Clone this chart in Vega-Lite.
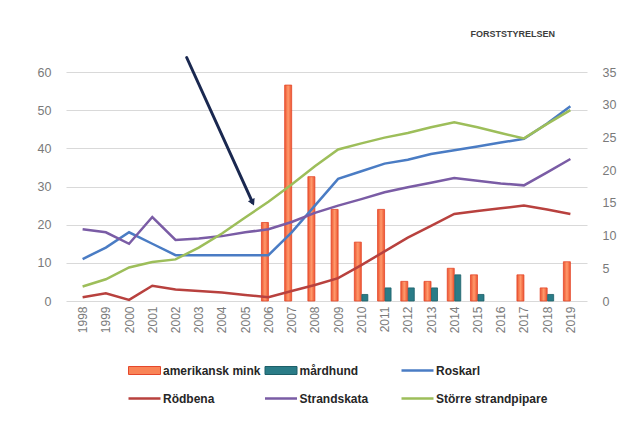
{
  "$schema": "https://vega.github.io/schema/vega-lite/v6.json",
  "width": 521,
  "height": 229,
  "autosize": {"type": "none"},
  "padding": {"left": 66, "top": 72, "right": 46, "bottom": 120},
  "background": "white",
  "title": {
    "text": "FORSTSTYRELSEN",
    "anchor": "end",
    "frame": "group",
    "offset": 17,
    "dx": -32,
    "fontSize": 9,
    "fontWeight": "bold",
    "color": "#3d3d3d"
  },
  "datasets": {
    "predators": [
      {"year": 2006, "serie": "amerikansk mink", "value": 12},
      {"year": 2007, "serie": "amerikansk mink", "value": 33},
      {"year": 2008, "serie": "amerikansk mink", "value": 19},
      {"year": 2009, "serie": "amerikansk mink", "value": 14},
      {"year": 2010, "serie": "amerikansk mink", "value": 9},
      {"year": 2011, "serie": "amerikansk mink", "value": 14},
      {"year": 2012, "serie": "amerikansk mink", "value": 3},
      {"year": 2013, "serie": "amerikansk mink", "value": 3},
      {"year": 2014, "serie": "amerikansk mink", "value": 5},
      {"year": 2015, "serie": "amerikansk mink", "value": 4},
      {"year": 2017, "serie": "amerikansk mink", "value": 4},
      {"year": 2018, "serie": "amerikansk mink", "value": 2},
      {"year": 2019, "serie": "amerikansk mink", "value": 6},
      {"year": 2010, "serie": "mårdhund", "value": 1},
      {"year": 2011, "serie": "mårdhund", "value": 2},
      {"year": 2012, "serie": "mårdhund", "value": 2},
      {"year": 2013, "serie": "mårdhund", "value": 2},
      {"year": 2014, "serie": "mårdhund", "value": 4},
      {"year": 2015, "serie": "mårdhund", "value": 1},
      {"year": 2018, "serie": "mårdhund", "value": 1}
    ],
    "birds": [
      {"year": 1998, "serie": "Roskarl", "value": 11},
      {"year": 1999, "serie": "Roskarl", "value": 14},
      {"year": 2000, "serie": "Roskarl", "value": 18},
      {"year": 2001, "serie": "Roskarl", "value": 15},
      {"year": 2002, "serie": "Roskarl", "value": 12},
      {"year": 2003, "serie": "Roskarl", "value": 12},
      {"year": 2004, "serie": "Roskarl", "value": 12},
      {"year": 2005, "serie": "Roskarl", "value": 12},
      {"year": 2006, "serie": "Roskarl", "value": 12},
      {"year": 2007, "serie": "Roskarl", "value": 18},
      {"year": 2008, "serie": "Roskarl", "value": 25},
      {"year": 2009, "serie": "Roskarl", "value": 32},
      {"year": 2010, "serie": "Roskarl", "value": 34},
      {"year": 2011, "serie": "Roskarl", "value": 36},
      {"year": 2012, "serie": "Roskarl", "value": 37},
      {"year": 2013, "serie": "Roskarl", "value": 38.5},
      {"year": 2014, "serie": "Roskarl", "value": 39.5},
      {"year": 2015, "serie": "Roskarl", "value": 40.5},
      {"year": 2016, "serie": "Roskarl", "value": 41.5},
      {"year": 2017, "serie": "Roskarl", "value": 42.5},
      {"year": 2018, "serie": "Roskarl", "value": 46.5},
      {"year": 2019, "serie": "Roskarl", "value": 51},
      {"year": 1998, "serie": "Rödbena", "value": 1},
      {"year": 1999, "serie": "Rödbena", "value": 2},
      {"year": 2000, "serie": "Rödbena", "value": 0.3},
      {"year": 2001, "serie": "Rödbena", "value": 4},
      {"year": 2002, "serie": "Rödbena", "value": 3},
      {"year": 2003, "serie": "Rödbena", "value": 2.6},
      {"year": 2004, "serie": "Rödbena", "value": 2.2},
      {"year": 2005, "serie": "Rödbena", "value": 1.6},
      {"year": 2006, "serie": "Rödbena", "value": 1},
      {"year": 2007, "serie": "Rödbena", "value": 2.6},
      {"year": 2008, "serie": "Rödbena", "value": 4.2},
      {"year": 2009, "serie": "Rödbena", "value": 6},
      {"year": 2010, "serie": "Rödbena", "value": 9.4},
      {"year": 2011, "serie": "Rödbena", "value": 13},
      {"year": 2012, "serie": "Rödbena", "value": 16.6},
      {"year": 2013, "serie": "Rödbena", "value": 19.7},
      {"year": 2014, "serie": "Rödbena", "value": 22.8},
      {"year": 2015, "serie": "Rödbena", "value": 23.6},
      {"year": 2016, "serie": "Rödbena", "value": 24.3},
      {"year": 2017, "serie": "Rödbena", "value": 25},
      {"year": 2018, "serie": "Rödbena", "value": 24},
      {"year": 2019, "serie": "Rödbena", "value": 22.8},
      {"year": 1998, "serie": "Strandskata", "value": 18.8},
      {"year": 1999, "serie": "Strandskata", "value": 18},
      {"year": 2000, "serie": "Strandskata", "value": 15},
      {"year": 2001, "serie": "Strandskata", "value": 22},
      {"year": 2002, "serie": "Strandskata", "value": 16},
      {"year": 2003, "serie": "Strandskata", "value": 16.4},
      {"year": 2004, "serie": "Strandskata", "value": 17},
      {"year": 2005, "serie": "Strandskata", "value": 18},
      {"year": 2006, "serie": "Strandskata", "value": 18.8},
      {"year": 2007, "serie": "Strandskata", "value": 20.7},
      {"year": 2008, "serie": "Strandskata", "value": 23.1},
      {"year": 2009, "serie": "Strandskata", "value": 25},
      {"year": 2010, "serie": "Strandskata", "value": 26.7},
      {"year": 2011, "serie": "Strandskata", "value": 28.5},
      {"year": 2012, "serie": "Strandskata", "value": 29.8},
      {"year": 2013, "serie": "Strandskata", "value": 31},
      {"year": 2014, "serie": "Strandskata", "value": 32.2},
      {"year": 2015, "serie": "Strandskata", "value": 31.5},
      {"year": 2016, "serie": "Strandskata", "value": 30.8},
      {"year": 2017, "serie": "Strandskata", "value": 30.3},
      {"year": 2018, "serie": "Strandskata", "value": 33.7},
      {"year": 2019, "serie": "Strandskata", "value": 37.2},
      {"year": 1998, "serie": "Större strandpipare", "value": 3.8},
      {"year": 1999, "serie": "Större strandpipare", "value": 5.7},
      {"year": 2000, "serie": "Större strandpipare", "value": 8.8},
      {"year": 2001, "serie": "Större strandpipare", "value": 10.2},
      {"year": 2002, "serie": "Större strandpipare", "value": 10.9},
      {"year": 2003, "serie": "Större strandpipare", "value": 14},
      {"year": 2004, "serie": "Större strandpipare", "value": 17.7},
      {"year": 2005, "serie": "Större strandpipare", "value": 21.9},
      {"year": 2006, "serie": "Större strandpipare", "value": 26},
      {"year": 2007, "serie": "Större strandpipare", "value": 30.5},
      {"year": 2008, "serie": "Större strandpipare", "value": 35.3},
      {"year": 2009, "serie": "Större strandpipare", "value": 39.7},
      {"year": 2010, "serie": "Större strandpipare", "value": 41.3},
      {"year": 2011, "serie": "Större strandpipare", "value": 42.8},
      {"year": 2012, "serie": "Större strandpipare", "value": 44},
      {"year": 2013, "serie": "Större strandpipare", "value": 45.5},
      {"year": 2014, "serie": "Större strandpipare", "value": 46.8},
      {"year": 2015, "serie": "Större strandpipare", "value": 45.5},
      {"year": 2016, "serie": "Större strandpipare", "value": 44},
      {"year": 2017, "serie": "Större strandpipare", "value": 42.6},
      {"year": 2018, "serie": "Större strandpipare", "value": 46.4},
      {"year": 2019, "serie": "Större strandpipare", "value": 50}
    ],
    "arrow": [
      {"x_start": 2002.48, "y_start": 63.8, "x_end": 2005.32, "y_end": 25.8}
    ]
  },
  "layer": [
    {
      "data": {"name": "predators"},
      "layer": [
        {
          "transform": [{"filter": "datum.serie === 'amerikansk mink'"}],
          "mark": {
            "type": "bar",
            "orient": "vertical",
            "size": 7,
            "xOffset": -3.5,
            "strokeWidth": 0.8,
            "fill": {
              "gradient": "linear", "x1": 0, "x2": 1, "y1": 0, "y2": 0,
              "stops": [
                {"offset": 0, "color": "#EC5430"},
                {"offset": 0.5, "color": "#FF9A6C"},
                {"offset": 1, "color": "#EC5430"}
              ]
            }
          },
          "encoding": {
            "x": {
              "field": "year", "type": "quantitative",
              "scale": {"domain": [1997.5, 2019.5], "nice": false, "zero": false},
              "axis": {"values": [1998, 1999, 2000, 2001, 2002, 2003, 2004, 2005, 2006, 2007, 2008, 2009, 2010, 2011, 2012, 2013, 2014, 2015, 2016, 2017, 2018, 2019], "format": "d", "title": null, "labelOverlap": false}
            },
            "y": {
              "field": "value", "type": "quantitative",
              "scale": {"domain": [0, 35], "nice": false},
              "axis": {"orient": "right", "values": [0, 5, 10, 15, 20, 25, 30, 35], "grid": false, "title": null, "labelOverlap": false}
            },
            "stroke": {
              "field": "serie", "type": "nominal",
              "scale": {
                "domain": ["amerikansk mink", "mårdhund", "Roskarl", "Rödbena", "Strandskata", "Större strandpipare"],
                "range": ["#E5472B", "#1D5F68", "#4A7CC4", "#B8413E", "#7A5CA5", "#9DBE5A"]
              },
              "legend": {
                "title": null,
                "orient": "none",
                "direction": "horizontal",
                "legendX": 72.5,
                "legendY": 292.5,
                "columns": 3,
                "gridAlign": "all",
                "columnPadding": -14.5,
                "rowPadding": 16,
                "padding": 0,
                "symbolSize": 400,
                "symbolStrokeWidth": 2.5,
                "labelOffset": 12.5,
                "labelFontSize": 12,
                "labelFontWeight": "bold",
                "labelColor": "#262626",
                "encode": {
                  "symbols": {
                    "update": {
                      "shape": {"signal": "datum.value === 'amerikansk mink' || datum.value === 'mårdhund' ? 'M-1.6,-0.4H1.6V0.4H-1.6Z' : 'M-1.6,0H1.6'"},
                      "fill": {"signal": "datum.value === 'amerikansk mink' ? '#F98457' : datum.value === 'mårdhund' ? '#2A7C87' : 'transparent'"},
                      "strokeWidth": {"signal": "datum.value === 'amerikansk mink' || datum.value === 'mårdhund' ? 1 : 2.5"}
                    }
                  }
                }
              }
            }
          }
        },
        {
          "transform": [{"filter": "datum.serie === 'mårdhund'"}],
          "mark": {
            "type": "bar",
            "orient": "vertical",
            "size": 6,
            "xOffset": 3.5,
            "strokeWidth": 0.8,
            "fill": "#2A7C87"
          },
          "encoding": {
            "x": {
              "field": "year", "type": "quantitative",
              "scale": {"domain": [1997.5, 2019.5], "nice": false, "zero": false},
              "axis": {"values": [1998, 1999, 2000, 2001, 2002, 2003, 2004, 2005, 2006, 2007, 2008, 2009, 2010, 2011, 2012, 2013, 2014, 2015, 2016, 2017, 2018, 2019], "format": "d", "title": null, "labelOverlap": false}
            },
            "y": {
              "field": "value", "type": "quantitative",
              "scale": {"domain": [0, 35], "nice": false},
              "axis": {"orient": "right", "values": [0, 5, 10, 15, 20, 25, 30, 35], "grid": false, "title": null, "labelOverlap": false}
            },
            "stroke": {
              "field": "serie", "type": "nominal",
              "legend": {
                "title": null,
                "orient": "none",
                "direction": "horizontal",
                "legendX": 72.5,
                "legendY": 292.5,
                "columns": 3,
                "gridAlign": "all",
                "columnPadding": -14.5,
                "rowPadding": 16,
                "padding": 0,
                "symbolSize": 400,
                "symbolStrokeWidth": 2.5,
                "labelOffset": 12.5,
                "labelFontSize": 12,
                "labelFontWeight": "bold",
                "labelColor": "#262626",
                "encode": {
                  "symbols": {
                    "update": {
                      "shape": {"signal": "datum.value === 'amerikansk mink' || datum.value === 'mårdhund' ? 'M-1.6,-0.4H1.6V0.4H-1.6Z' : 'M-1.6,0H1.6'"},
                      "fill": {"signal": "datum.value === 'amerikansk mink' ? '#F98457' : datum.value === 'mårdhund' ? '#2A7C87' : 'transparent'"},
                      "strokeWidth": {"signal": "datum.value === 'amerikansk mink' || datum.value === 'mårdhund' ? 1 : 2.5"}
                    }
                  }
                }
              }
            }
          }
        }
      ]
    },
    {
      "layer": [
        {
          "data": {"name": "birds"},
          "mark": {"type": "line", "strokeWidth": 2.5},
          "encoding": {
            "x": {
              "field": "year", "type": "quantitative",
              "scale": {"domain": [1997.5, 2019.5], "nice": false, "zero": false},
              "axis": {"values": [1998, 1999, 2000, 2001, 2002, 2003, 2004, 2005, 2006, 2007, 2008, 2009, 2010, 2011, 2012, 2013, 2014, 2015, 2016, 2017, 2018, 2019], "format": "d", "title": null, "labelOverlap": false}
            },
            "y": {
              "field": "value", "type": "quantitative",
              "scale": {"domain": [0, 60], "nice": false},
              "axis": {"orient": "left", "values": [0, 10, 20, 30, 40, 50, 60], "grid": true, "title": null, "labelOverlap": false}
            },
            "stroke": {
              "field": "serie", "type": "nominal",
              "legend": {
                "title": null,
                "orient": "none",
                "direction": "horizontal",
                "legendX": 72.5,
                "legendY": 292.5,
                "columns": 3,
                "gridAlign": "all",
                "columnPadding": -14.5,
                "rowPadding": 16,
                "padding": 0,
                "symbolSize": 400,
                "symbolStrokeWidth": 2.5,
                "labelOffset": 12.5,
                "labelFontSize": 12,
                "labelFontWeight": "bold",
                "labelColor": "#262626",
                "encode": {
                  "symbols": {
                    "update": {
                      "shape": {"signal": "datum.value === 'amerikansk mink' || datum.value === 'mårdhund' ? 'M-1.6,-0.4H1.6V0.4H-1.6Z' : 'M-1.6,0H1.6'"},
                      "fill": {"signal": "datum.value === 'amerikansk mink' ? '#F98457' : datum.value === 'mårdhund' ? '#2A7C87' : 'transparent'"},
                      "strokeWidth": {"signal": "datum.value === 'amerikansk mink' || datum.value === 'mårdhund' ? 1 : 2.5"}
                    }
                  }
                }
              }
            }
          }
        },
        {
          "data": {"name": "arrow"},
          "mark": {"type": "rule", "strokeWidth": 3, "color": "#1A2850", "strokeCap": "round"},
          "encoding": {
            "x": {
              "field": "x_start", "type": "quantitative",
              "scale": {"domain": [1997.5, 2019.5], "nice": false, "zero": false},
              "axis": {"values": [1998, 1999, 2000, 2001, 2002, 2003, 2004, 2005, 2006, 2007, 2008, 2009, 2010, 2011, 2012, 2013, 2014, 2015, 2016, 2017, 2018, 2019], "format": "d", "title": null, "labelOverlap": false}
            },
            "y": {
              "field": "y_start", "type": "quantitative",
              "scale": {"domain": [0, 60], "nice": false},
              "axis": {"orient": "left", "values": [0, 10, 20, 30, 40, 50, 60], "grid": true, "title": null, "labelOverlap": false}
            },
            "x2": {"field": "x_end"},
            "y2": {"field": "y_end"}
          }
        },
        {
          "data": {"name": "arrow"},
          "mark": {"type": "point", "shape": "triangle-up", "filled": true, "opacity": 1, "size": 55, "angle": 155, "color": "#1A2850"},
          "encoding": {
            "x": {
              "field": "x_end", "type": "quantitative",
              "scale": {"domain": [1997.5, 2019.5], "nice": false, "zero": false},
              "axis": {"values": [1998, 1999, 2000, 2001, 2002, 2003, 2004, 2005, 2006, 2007, 2008, 2009, 2010, 2011, 2012, 2013, 2014, 2015, 2016, 2017, 2018, 2019], "format": "d", "title": null, "labelOverlap": false}
            },
            "y": {
              "field": "y_end", "type": "quantitative",
              "scale": {"domain": [0, 60], "nice": false},
              "axis": {"orient": "left", "values": [0, 10, 20, 30, 40, 50, 60], "grid": true, "title": null, "labelOverlap": false}
            }
          }
        }
      ]
    }
  ],
  "resolve": {"scale": {"y": "independent"}},
  "config": {
    "font": "Liberation Sans",
    "view": {"stroke": null},
    "axis": {
      "labelColor": "#7a7a7a",
      "ticks": false,
      "domain": false,
      "labelFont": "Liberation Sans"
    },
    "axisX": {"labelAngle": -90, "labelPadding": 5, "labelFontSize": 12, "grid": false},
    "axisY": {"labelFontSize": 12.5, "labelPadding": 15, "gridColor": "#D9D9D9", "gridWidth": 1}
  }
}
